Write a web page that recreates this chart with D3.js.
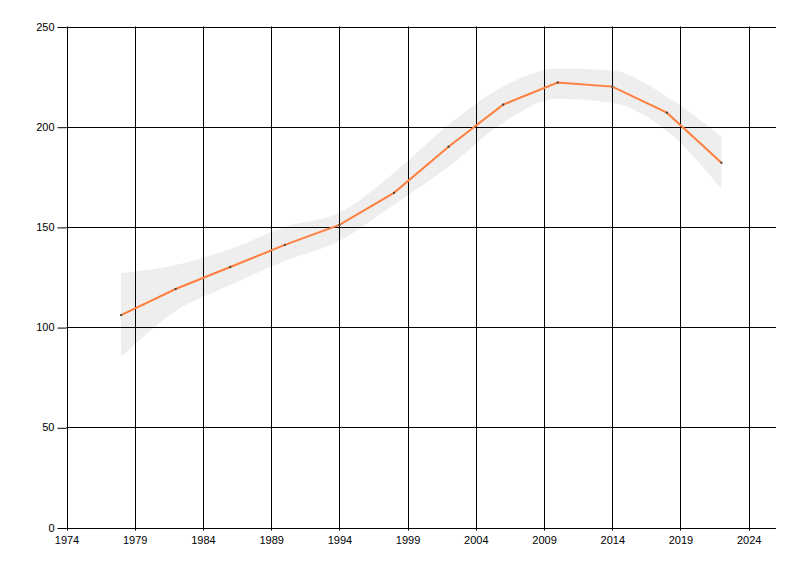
<!DOCTYPE html>
<html>
<head>
<meta charset="utf-8">
<script src="https://cdn.jsdelivr.net/npm/d3@7"></script>
<style>
  body { margin: 0; background: #fff; }
  text { font-family: "Liberation Sans", Arial, sans-serif; font-size: 11px; fill: #000; }
</style>
</head>
<body>
<svg id="chart" width="800" height="576"></svg>
<script>
// data
var years  = [1978, 1982, 1986, 1990, 1994, 1998, 2002, 2006, 2010, 2014, 2018, 2022];
var values = [106, 119, 130, 141, 151, 167, 190, 211, 222, 220, 207, 182];
var upper  = [127, 131, 139, 150, 157, 177, 201, 220, 229, 228, 215, 195];
var lower  = [85, 108, 121, 133, 143, 161, 180, 202, 214, 212, 198, 169];
var xTicks = [1974, 1979, 1984, 1989, 1994, 1999, 2004, 2009, 2014, 2019, 2024];
var yTicks = [0, 50, 100, 150, 200, 250];

(function() {
    var left = 66.5, right = 776, top = 26.5, bottom = 527.5;
    var svg = d3.select("#chart");

    var x = d3.scaleLinear().domain([1974, 2026]).range([left, right]);
    var y = d3.scaleLinear().domain([0, 250]).range([bottom, top]);

    var rows = years.map(function(d, i) {
        return { year: d, v: values[i], hi: upper[i], lo: lower[i] };
    });

    // confidence band
    var band = d3.area()
        .x(function(d) { return x(d.year); })
        .y0(function(d) { return y(d.lo); })
        .y1(function(d) { return y(d.hi); })
        .curve(d3.curveMonotoneX);
    svg.append("path")
        .datum(rows)
        .attr("d", band)
        .attr("fill", "#eeeeee");

    // grid
    svg.append("g").selectAll("line")
        .data(xTicks)
        .enter().append("line")
        .attr("x1", function(d) { return Math.round(x(d)) + 0.5; })
        .attr("x2", function(d) { return Math.round(x(d)) + 0.5; })
        .attr("y1", top).attr("y2", bottom + 3)
        .attr("stroke", "#000");
    svg.append("g").selectAll("line")
        .data(yTicks)
        .enter().append("line")
        .attr("x1", left).attr("x2", right)
        .attr("y1", function(d) { return Math.round(y(d)) + 0.5; })
        .attr("y2", function(d) { return Math.round(y(d)) + 0.5; })
        .attr("stroke", "#000");

    // axes (labels and y ticks; grid lines draw the rules)
    var xAxis = svg.append("g")
        .attr("transform", "translate(0," + bottom + ")")
        .call(d3.axisBottom(x).tickValues(xTicks).tickFormat(d3.format("d")).tickSize(0).tickPadding(9));
    xAxis.select(".domain").remove();
    var yAxis = svg.append("g")
        .attr("transform", "translate(" + left + ",0)")
        .call(d3.axisLeft(y).tickValues(yTicks).tickSize(9).tickPadding(3));
    yAxis.select(".domain").remove();
    yAxis.selectAll(".tick line").attr("transform", "translate(0,0.5)");
    svg.selectAll(".tick text").attr("font-size", 11).attr("font-family", "Liberation Sans, Arial, sans-serif");

    // line
    var line = d3.line()
        .x(function(d) { return x(d.year); })
        .y(function(d) { return y(d.v); });
    svg.append("path")
        .datum(rows)
        .attr("d", line)
        .attr("fill", "none")
        .attr("stroke", "#ff7f3f")
        .attr("stroke-width", 2);

    // markers
    svg.append("g").selectAll("rect")
        .data(rows)
        .enter().append("rect")
        .attr("x", function(d) { return x(d.year) - 1; })
        .attr("y", function(d) { return y(d.v) - 1; })
        .attr("width", 2).attr("height", 2)
        .attr("fill", "#444");
})();
</script>
</body>
</html>
